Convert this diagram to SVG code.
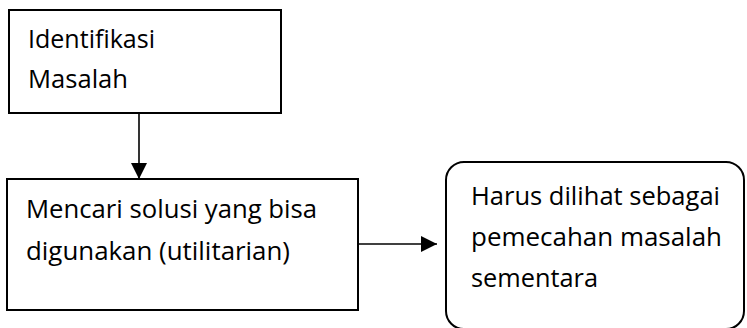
<svg xmlns="http://www.w3.org/2000/svg" width="747" height="328" viewBox="0 0 747 328">
  <defs>
    <marker id="head" viewBox="0 0 16 16" refX="16" refY="8" markerWidth="16" markerHeight="16" markerUnits="userSpaceOnUse" orient="auto">
      <path d="M0,0 L16,8 L0,16 Z" fill="#000"/>
    </marker>
  </defs>
  <style>
    .box { fill: #fff; stroke: #000; stroke-width: 2; }
    .label { font-family: "Open Sans", "Noto Sans", "Liberation Sans", sans-serif; font-size: 25px; fill: #000; }
    .link { stroke: #000; stroke-width: 1.6; fill: none; marker-end: url(#head); }
  </style>
  <rect width="747" height="328" fill="#fff"/>

  <g id="identifikasi">
    <rect class="box" x="9" y="10" width="272" height="103"/>
    <text class="label" x="28" y="48" textLength="127" lengthAdjust="spacingAndGlyphs">Identifikasi</text>
    <text class="label" x="28" y="88" textLength="100" lengthAdjust="spacingAndGlyphs">Masalah</text>
  </g>

  <g id="mencari-solusi">
    <rect class="box" x="7" y="179" width="351" height="131"/>
    <text class="label" x="26" y="218" textLength="291" lengthAdjust="spacingAndGlyphs">Mencari solusi yang bisa</text>
    <text class="label" x="26" y="260" textLength="264" lengthAdjust="spacingAndGlyphs">digunakan (utilitarian)</text>
  </g>

  <g id="pemecahan-sementara">
    <rect class="box" x="446" y="162" width="298" height="167" rx="18" ry="18"/>
    <text class="label" x="471" y="205" textLength="249" lengthAdjust="spacingAndGlyphs">Harus dilihat sebagai</text>
    <text class="label" x="471" y="246" textLength="251" lengthAdjust="spacingAndGlyphs">pemecahan masalah</text>
    <text class="label" x="471" y="287" textLength="127" lengthAdjust="spacingAndGlyphs">sementara</text>
  </g>

  <g id="connectors">
    <line class="link" x1="139" y1="113" x2="139" y2="179"/>
    <line class="link" x1="358" y1="244" x2="437" y2="244"/>
  </g>
</svg>
